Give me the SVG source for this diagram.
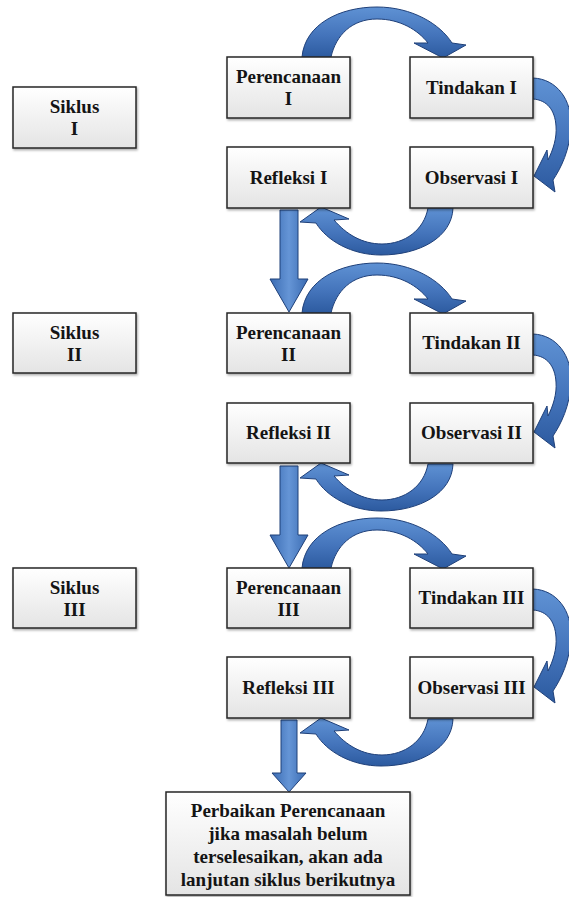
<svg xmlns="http://www.w3.org/2000/svg" xmlns:xlink="http://www.w3.org/1999/xlink" width="569" height="897" viewBox="0 0 569 897">
<style>
.box{fill:url(#boxg);stroke:#262626;stroke-width:1.5;filter:url(#sh)}
.t{font-family:"Liberation Serif","Times New Roman",serif;font-weight:bold;font-size:19px;fill:#141414;text-anchor:middle}
.arc{fill:url(#arcg);stroke:#1f4079;stroke-width:1;stroke-linejoin:round}
.dn{fill:url(#dng);stroke:#1f4079;stroke-width:1;stroke-linejoin:round}
</style>
<defs>
<linearGradient id="boxg" x1="0" y1="0" x2="0" y2="1">
<stop offset="0" stop-color="#ffffff"/><stop offset="1" stop-color="#e4e4e4"/>
</linearGradient>
<linearGradient id="arcg" x1="0" y1="0" x2="0" y2="1">
<stop offset="0" stop-color="#5f92d4"/><stop offset="0.55" stop-color="#4474bb"/><stop offset="1" stop-color="#2c5a9f"/>
</linearGradient>
<linearGradient id="dng" x1="0" y1="0" x2="1" y2="0">
<stop offset="0" stop-color="#3a6bb2"/><stop offset="0.5" stop-color="#6595d6"/><stop offset="1" stop-color="#3a6bb2"/>
</linearGradient>
<filter id="sh" x="-10%" y="-10%" width="120%" height="130%">
<feDropShadow dx="1" dy="1.5" stdDeviation="1" flood-color="#000" flood-opacity="0.35"/>
</filter>
<path id="arcTop" class="arc" d="M 302 57 C 305 24, 340 7, 377 7 C 412 7, 440 24, 452 43 L 466 45 L 443 58 L 414 43 L 428 43 C 418 30, 400 19, 377 19 C 352 19, 336 35, 331 57 Z"/>
<path id="arcRight" class="arc" d="M 533 78 C 557 79, 572 100, 571 126 C 570 150, 561 168, 553 180 L 555 192 L 534 176 L 547 150 L 548 160 C 553 150, 557 138, 556 126 C 555 110, 547 100, 533 99 Z"/>
<path id="arcBottom" class="arc" d="M 453 208 C 452 237, 420 255, 381 255 C 352 255, 327 241, 316 223 L 300 222 L 321 207 L 349 219 L 334 220 C 346 234, 362 244, 382 244 C 405 244, 424 230, 428 208 Z"/>
<path id="down" class="dn" d="M 280 210 L 298 210 L 298 279 L 308 279 L 289 312 L 270 279 L 280 279 Z"/>
</defs>
<rect width="569" height="897" fill="#ffffff"/>
<g id="connectors">
<use xlink:href="#arcTop"/>
<use xlink:href="#arcRight"/>
<use xlink:href="#arcBottom"/>
<use xlink:href="#down"/>
<use xlink:href="#arcTop" transform="translate(0,256)"/>
<use xlink:href="#arcRight" transform="translate(0,256)"/>
<use xlink:href="#arcBottom" transform="translate(0,256)"/>
<use xlink:href="#down" transform="translate(0,256)"/>
<use xlink:href="#arcTop" transform="translate(0,511)"/>
<use xlink:href="#arcRight" transform="translate(0,511)"/>
<use xlink:href="#arcBottom" transform="translate(0,511)"/>
<path class="dn" d="M 281 720 L 297 720 L 297 773 L 306 773 L 289 792 L 272 773 L 281 773 Z"/>
</g>
<g id="siklus1"><rect class="box" x="13" y="87" width="123" height="61"/><text class="t" x="74.5" y="113">Siklus</text><text class="t" x="74.5" y="135">I</text></g>
<g id="siklus2"><rect class="box" x="13" y="313" width="123" height="60"/><text class="t" x="74.5" y="339">Siklus</text><text class="t" x="74.5" y="361">II</text></g>
<g id="siklus3"><rect class="box" x="13" y="568" width="123" height="60"/><text class="t" x="74.5" y="594">Siklus</text><text class="t" x="74.5" y="616">III</text></g>

<g id="perencanaan1"><rect class="box" x="227" y="57" width="123" height="61"/><text class="t" x="288.5" y="83">Perencanaan</text><text class="t" x="288.5" y="105">I</text></g>
<g id="tindakan1"><rect class="box" x="410" y="57" width="123" height="61"/><text class="t" x="471.5" y="94">Tindakan I</text></g>
<g id="refleksi1"><rect class="box" x="227" y="147" width="123" height="61"/><text class="t" x="288.5" y="184">Refleksi I</text></g>
<g id="observasi1"><rect class="box" x="410" y="147" width="123" height="61"/><text class="t" x="471.5" y="184">Observasi I</text></g>

<g id="perencanaan2"><rect class="box" x="227" y="313" width="123" height="60"/><text class="t" x="288.5" y="339">Perencanaan</text><text class="t" x="288.5" y="361">II</text></g>
<g id="tindakan2"><rect class="box" x="410" y="313" width="123" height="60"/><text class="t" x="471.5" y="349">Tindakan II</text></g>
<g id="refleksi2"><rect class="box" x="227" y="403" width="123" height="60"/><text class="t" x="288.5" y="439">Refleksi II</text></g>
<g id="observasi2"><rect class="box" x="410" y="403" width="123" height="60"/><text class="t" x="471.5" y="439">Observasi II</text></g>

<g id="perencanaan3"><rect class="box" x="227" y="568" width="123" height="60"/><text class="t" x="288.5" y="594">Perencanaan</text><text class="t" x="288.5" y="616">III</text></g>
<g id="tindakan3"><rect class="box" x="410" y="568" width="123" height="60"/><text class="t" x="471.5" y="604">Tindakan III</text></g>
<g id="refleksi3"><rect class="box" x="227" y="657" width="123" height="61"/><text class="t" x="288.5" y="694">Refleksi III</text></g>
<g id="observasi3"><rect class="box" x="410" y="657" width="123" height="61"/><text class="t" x="471.5" y="694">Observasi III</text></g>

<g id="perbaikan"><rect class="box" x="166" y="792" width="244" height="103"/>
<text class="t" x="288" y="817">Perbaikan Perencanaan</text>
<text class="t" x="288" y="840">jika masalah belum</text>
<text class="t" x="288" y="863">terselesaikan, akan ada</text>
<text class="t" x="288" y="886">lanjutan siklus berikutnya</text></g>
</svg>
